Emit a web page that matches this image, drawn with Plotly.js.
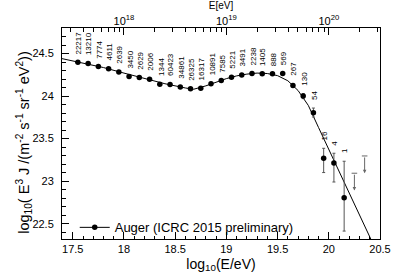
<!DOCTYPE html>
<html>
<head>
<meta charset="utf-8">
<script src="https://cdn.plot.ly/plotly-3.0.1.min.js"></script>
<style>html,body{margin:0;padding:0;background:#fff;}#chart{width:402px;height:278px;}</style>
</head>
<body>
<div id="chart"></div>
<script>
// Data
var logE = [17.55,17.65,17.75,17.85,17.95,18.05,18.15,18.25,18.35,18.45,18.55,18.65,18.75,18.85,18.95,19.05,19.15,19.25,19.35,19.45,19.55,19.65,19.75,19.85,19.95,20.05,20.15];
var logJE3 = [24.398,24.383,24.348,24.320,24.284,24.230,24.219,24.199,24.140,24.137,24.108,24.085,24.093,24.144,24.183,24.222,24.249,24.266,24.261,24.261,24.266,24.125,24.000,23.804,23.269,23.214,22.804];
var errUp = [0,0,0,0,0,0,0,0,0,0,0,0,0,0,0,0,0,0,0,0,0,0.02,0.03,0.055,0.117,0.114,0.43];
var errDown = [0,0,0,0,0,0,0,0,0,0,0,0,0,0,0,0,0,0,0,0,0,0.02,0.03,0.05,0.168,0.224,0.391];
var counts = ['22217','13210','7774','4611','2639','3450','2629','2006','1344','60423','34861','26325','16317','10891','7585','5221','3491','2238','1405','888','569','267','130','54','16','4','1'];
var ulX = [20.25,20.35];
var ulTop = [23.093,23.296];
var ulBottom = [22.89,23.093];
var fitX = [17.395,17.6,17.8,18.0,18.2,18.4,18.6,18.68,18.8,18.9,19.0,19.1,19.2,19.3,19.4,19.5,19.6,19.7,19.8,19.9,20.0,20.1,20.2,20.3,20.41];
var fitY = [24.44,24.39,24.335,24.27,24.205,24.145,24.095,24.08,24.12,24.165,24.205,24.237,24.258,24.27,24.265,24.24,24.18,24.065,23.89,23.63,23.37,23.11,22.85,22.59,22.32];
var legendName = 'Auger (ICRC 2015 preliminary)';
var topTickVals = [1e18,1e19,1e20];
var topTickText = ['10<sup>18</sup>','10<sup>19</sup>','10<sup>20</sup>'];

var FONT = 'Liberation Sans, Arial, Helvetica, sans-serif';

var minorTop = [];
for (var d = 17; d <= 20; d++) { for (var m = 2; m <= 9; m++) { minorTop.push(m * Math.pow(10, d)); } }

var traces = [
  {x: fitX, y: fitY, mode: 'lines', line: {color: '#000', width: 1}, showlegend: false, hoverinfo: 'skip'},
  {x: logE, y: logJE3, mode: 'markers', marker: {color: '#000', size: 5.5},
   error_y: {type: 'data', symmetric: false, array: errUp, arrayminus: errDown, color: '#555', thickness: 1, width: 1.5},
   showlegend: false},
  {x: ulX, y: ulTop, mode: 'markers', marker: {symbol: 'line-ew', size: 4, line: {color: '#666', width: 1}}, showlegend: false, hoverinfo: 'skip'},
  {x: [null], y: [null], xaxis: 'x2', mode: 'lines+markers', name: legendName,
   line: {color: '#000', width: 1}, marker: {color: '#000', size: 5.5}}
];

var annotations = [];
for (var i = 0; i < logE.length; i++) {
  annotations.push({x: logE[i], y: logJE3[i] + errUp[i], xref: 'x', yref: 'y', text: counts[i],
    textangle: -90, showarrow: false, yanchor: 'bottom', xanchor: 'center', yshift: 6, xshift: 1,
    font: {family: FONT, size: 8, color: '#000'}});
}
for (var j = 0; j < ulX.length; j++) {
  annotations.push({x: ulX[j], y: ulBottom[j], ax: ulX[j], ay: ulTop[j], xref: 'x', yref: 'y', axref: 'x', ayref: 'y',
    showarrow: true, arrowhead: 2, arrowsize: 0.7, arrowwidth: 1, arrowcolor: '#666', text: ''});
}
annotations.push({xref: 'paper', yref: 'paper', x: -0.12, y: 0.46, xanchor: 'center', yanchor: 'middle',
  textangle: -90, showarrow: false,
  text: 'log<sub>10</sub>( E<sup>3</sup> J /(m<sup>-2</sup> s<sup>-1</sup> sr<sup>-1</sup> eV<sup>2</sup>))',
  font: {family: FONT, size: 14.5, color: '#000'}});

var layout = {
  width: 402, height: 278,
  margin: {l: 62, r: 22, t: 28, b: 39, pad: 0},
  paper_bgcolor: '#fff', plot_bgcolor: '#fff',
  font: {family: FONT, color: '#000'},
  showlegend: true,
  legend: {x: 0.04, y: 0.055, xanchor: 'left', yanchor: 'middle', bgcolor: 'rgba(0,0,0,0)',
    font: {family: FONT, size: 13, color: '#000'}},
  xaxis: {range: [17.395, 20.5], tick0: 17.5, dtick: 0.5, ticks: 'inside', ticklen: 7, tickwidth: 1, tickcolor: '#000',
    showline: true, linecolor: '#000', linewidth: 1, mirror: true, showgrid: false, zeroline: false,
    minor: {ticks: 'inside', ticklen: 3.5, dtick: 0.1, tick0: 17.5, tickcolor: '#000', showgrid: false},
    tickfont: {family: FONT, size: 11, color: '#000'},
    title: {text: 'log<sub>10</sub>(E/eV)', font: {family: FONT, size: 14, color: '#000'}, standoff: 4}},
  xaxis2: {overlaying: 'x', side: 'top', anchor: 'y', type: 'log', range: [17.395, 20.5],
    tickmode: 'array', tickvals: topTickVals, ticktext: topTickText,
    ticks: 'inside', ticklen: 7, tickwidth: 1, tickcolor: '#000', showline: false, showgrid: false, zeroline: false,
    minor: {ticks: 'inside', ticklen: 3.5, tickmode: 'array', tickvals: minorTop, tickcolor: '#000', showgrid: false},
    tickfont: {family: FONT, size: 11, color: '#000'},
    title: {text: 'E[eV]', font: {family: FONT, size: 10, color: '#000'}, standoff: 2}},
  yaxis: {range: [22.32, 24.8], tick0: 22.5, dtick: 0.5, ticks: 'inside', ticklen: 7, tickwidth: 1, tickcolor: '#000',
    showline: true, linecolor: '#000', linewidth: 1, mirror: true, showgrid: false, zeroline: false,
    minor: {ticks: 'inside', ticklen: 3.5, dtick: 0.1, tick0: 22.5, tickcolor: '#000', showgrid: false},
    tickfont: {family: FONT, size: 11, color: '#000'}, ticklabelstandoff: 5},
  annotations: annotations
};

Plotly.newPlot('chart', traces, layout, {displayModeBar: false, staticPlot: true});
</script>
</body>
</html>
